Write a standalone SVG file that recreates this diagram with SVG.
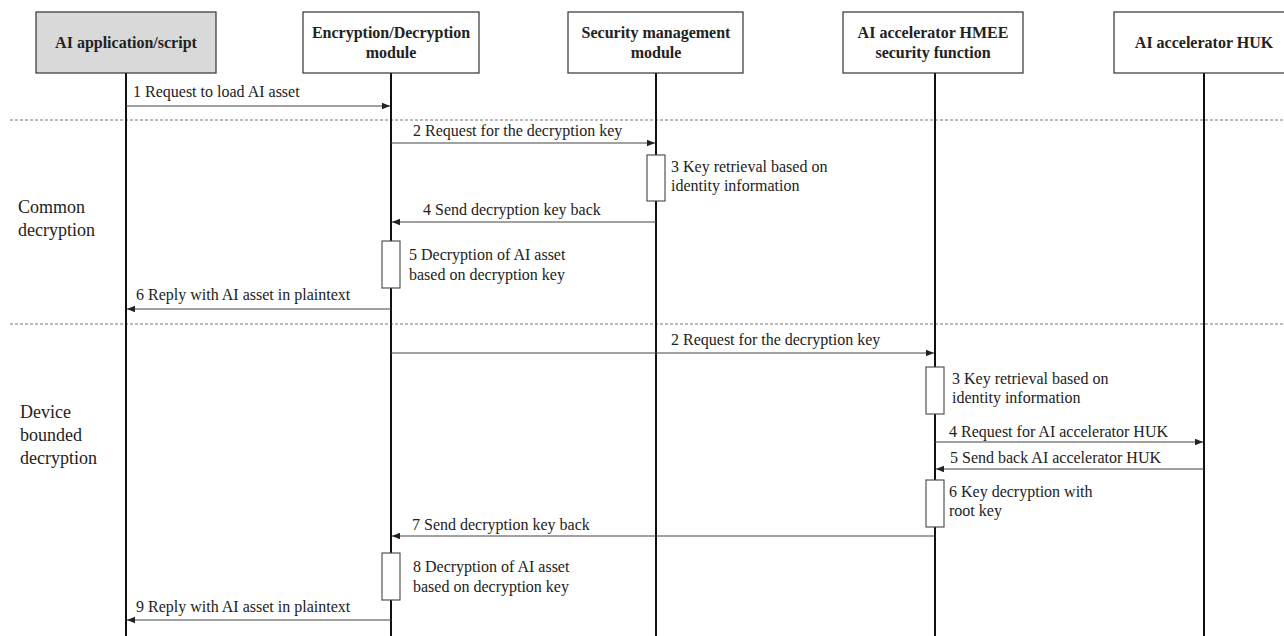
<svg xmlns="http://www.w3.org/2000/svg" width="1284" height="636" viewBox="0 0 1284 636">
  <style>
    .box { fill: #ffffff; stroke: #333333; stroke-width: 1.2; }
    .box.app { fill: #d9d9d9; }
    .title { font-family: "Liberation Serif", "Times New Roman", serif; font-weight: bold; font-size: 16px; fill: #222222; text-anchor: middle; }
    .life { stroke: #111111; stroke-width: 2; }
    .msg { stroke: #444444; stroke-width: 1.1; fill: none; }
    .sep { stroke: #777777; stroke-width: 1; stroke-dasharray: 3 2; }
    .act { fill: #ffffff; stroke: #444444; stroke-width: 1.1; }
    .lbl { font-family: "Liberation Serif", "Times New Roman", serif; font-size: 16px; fill: #222222; }
    .sec { font-family: "Liberation Serif", "Times New Roman", serif; font-size: 18px; fill: #222222; }
  </style>
  <defs>
    <marker id="arrow" viewBox="0 0 10 10" refX="10" refY="5" markerWidth="8" markerHeight="8" markerUnits="userSpaceOnUse" orient="auto">
      <path d="M0,1 L10,5 L0,9 Z" fill="#222222"/>
    </marker>
  </defs>

  <!-- phase separators -->
  <g id="separators">
    <line class="sep" x1="10" y1="120" x2="1284" y2="120"/>
    <line class="sep" x1="10" y1="324" x2="1284" y2="324"/>
  </g>

  <!-- lifelines -->
  <g id="lifelines">
    <line class="life" x1="126" y1="73" x2="126" y2="636"/>
    <line class="life" x1="391" y1="73" x2="391" y2="636"/>
    <line class="life" x1="656" y1="73" x2="656" y2="636"/>
    <line class="life" x1="935" y1="73" x2="935" y2="636"/>
    <line class="life" x1="1204" y1="73" x2="1204" y2="636"/>
  </g>

  <!-- participants -->
  <g id="app">
    <rect class="box app" x="36" y="12" width="180" height="61"/>
    <text class="title" x="126" y="48">AI application/script</text>
  </g>
  <g id="crypto">
    <rect class="box" x="303" y="12" width="176" height="61"/>
    <text class="title" x="391" y="38">Encryption/Decryption</text>
    <text class="title" x="391" y="58">module</text>
  </g>
  <g id="secmgmt">
    <rect class="box" x="568" y="12" width="175" height="61"/>
    <text class="title" x="656" y="38">Security management</text>
    <text class="title" x="656" y="58">module</text>
  </g>
  <g id="hmee">
    <rect class="box" x="843" y="12" width="180" height="61"/>
    <text class="title" x="933" y="38">AI accelerator HMEE</text>
    <text class="title" x="933" y="58">security function</text>
  </g>
  <g id="huk">
    <rect class="box" x="1114" y="12" width="180" height="61"/>
    <text class="title" x="1204" y="48">AI accelerator HUK</text>
  </g>

  <!-- phase labels -->
  <g id="phase-common">
    <text class="sec" x="18" y="213">Common</text>
    <text class="sec" x="18" y="236">decryption</text>
  </g>
  <g id="phase-device">
    <text class="sec" x="20" y="418">Device</text>
    <text class="sec" x="20" y="441">bounded</text>
    <text class="sec" x="20" y="464">decryption</text>
  </g>

  <!-- activations -->
  <g id="activations">
    <rect class="act" x="647" y="155" width="18" height="46"/>
    <rect class="act" x="382" y="241" width="18" height="47"/>
    <rect class="act" x="926" y="367" width="18" height="47"/>
    <rect class="act" x="926" y="480" width="18" height="47"/>
    <rect class="act" x="382" y="553" width="18" height="47"/>
  </g>

  <!-- messages -->
  <g id="connectors">
    <line class="msg" x1="126" y1="106" x2="390" y2="106" marker-end="url(#arrow)"/>
    <line class="msg" x1="391" y1="143" x2="655" y2="143" marker-end="url(#arrow)"/>
    <line class="msg" x1="656" y1="222" x2="392" y2="222" marker-end="url(#arrow)"/>
    <line class="msg" x1="391" y1="309" x2="127" y2="309" marker-end="url(#arrow)"/>
    <line class="msg" x1="391" y1="353" x2="934" y2="353" marker-end="url(#arrow)"/>
    <line class="msg" x1="935" y1="442" x2="1203" y2="442" marker-end="url(#arrow)"/>
    <line class="msg" x1="1204" y1="469" x2="936" y2="469" marker-end="url(#arrow)"/>
    <line class="msg" x1="935" y1="536" x2="392" y2="536" marker-end="url(#arrow)"/>
    <line class="msg" x1="391" y1="620" x2="127" y2="620" marker-end="url(#arrow)"/>
  </g>

  <!-- message labels -->
  <g id="labels">
    <text class="lbl" x="133" y="97">1 Request to load AI asset</text>
    <text class="lbl" x="413" y="136">2 Request for the decryption key</text>
    <text class="lbl" x="671" y="172">3 Key retrieval based on</text>
    <text class="lbl" x="671" y="191">identity information</text>
    <text class="lbl" x="423" y="215">4 Send decryption key back</text>
    <text class="lbl" x="409" y="260">5 Decryption of AI asset</text>
    <text class="lbl" x="409" y="280">based on decryption key</text>
    <text class="lbl" x="136" y="300">6 Reply with AI asset in plaintext</text>
    <text class="lbl" x="671" y="345">2 Request for the decryption key</text>
    <text class="lbl" x="952" y="384">3 Key retrieval based on</text>
    <text class="lbl" x="952" y="403">identity information</text>
    <text class="lbl" x="949" y="437">4 Request for AI accelerator HUK</text>
    <text class="lbl" x="950" y="463">5 Send back AI accelerator HUK</text>
    <text class="lbl" x="949" y="497">6 Key decryption with</text>
    <text class="lbl" x="949" y="516">root key</text>
    <text class="lbl" x="412" y="530">7 Send decryption key back</text>
    <text class="lbl" x="413" y="572">8 Decryption of AI asset</text>
    <text class="lbl" x="413" y="592">based on decryption key</text>
    <text class="lbl" x="136" y="612">9 Reply with AI asset in plaintext</text>
  </g>
</svg>
